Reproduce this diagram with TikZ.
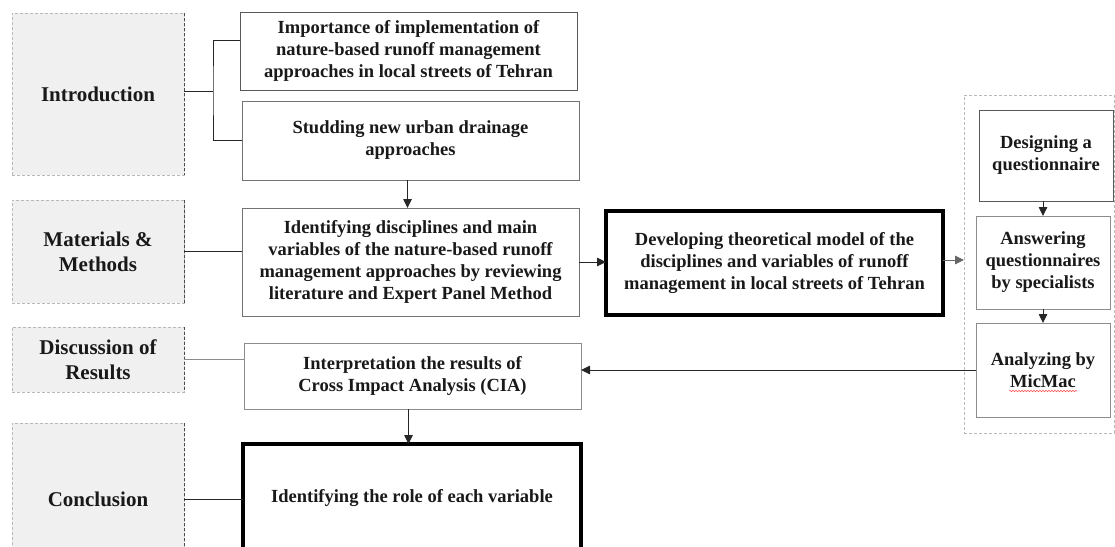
\documentclass[tikz,border=0pt]{standalone}
\usepackage{fontspec}
\setmainfont{Liberation Serif}
\usetikzlibrary{arrows.meta,decorations.pathmorphing}

\tikzset{
  section/.style={draw=gray!55, densely dashed, line width=0.8pt, fill=gray!12,
    inner sep=0pt, outer sep=0pt, align=center, text=black!90,
    font=\fontsize{21}{25}\selectfont\bfseries},
  stepbox/.style={draw=black!65, line width=0.9pt, fill=white,
    inner sep=0pt, outer sep=0pt, align=center, text=black!90,
    font=\fontsize{18.5}{22}\selectfont\bfseries},
  keybox/.style={stepbox, draw=black, line width=3.6pt},
  group/.style={draw=gray!55, densely dashed, line width=0.8pt,
    inner sep=0pt, outer sep=0pt},
  link/.style={draw=black!85, line width=0.9pt},
  flow/.style={link, -{Triangle[length=9pt,width=8.5pt]}},
}

\begin{document}
\begin{tikzpicture}[x=1pt,y=-1pt]
\useasboundingbox (0,0) rectangle (1115,546);
\clip (0,0) rectangle (1115,546);

% section labels on the left
\node[section, minimum width=172pt, minimum height=162pt] (intro) at (98,94) {Introduction};
\node[section, minimum width=172pt, minimum height=103pt] (mm) at (98,251.5) {Materials \&\\Methods};
\node[section, minimum width=172pt, minimum height=65pt] (disc) at (98,359.5) {Discussion of\\Results};
\node[section, minimum width=172pt, minimum height=152pt] (concl) at (98,499) {Conclusion};
\foreach \s in {intro,mm,disc,concl}
  \draw[black!70, densely dashed, line width=0.8pt] (\s.north east) -- (\s.south east);

% main column
\node[stepbox, minimum width=337pt, minimum height=78pt] (b1) at (408.5,51)
  {Importance of implementation of\\nature-based runoff management\\approaches in local streets of Tehran};
\node[stepbox, draw=black!55, minimum width=337pt, minimum height=79pt] (b2) at (410.5,140.5)
  {Studding new urban drainage\\approaches};
\node[stepbox, draw=black!55, minimum width=337pt, minimum height=108pt] (b3) at (410.5,262)
  {Identifying disciplines and main\\variables of the nature-based runoff\\management approaches by reviewing\\literature and Expert Panel Method};
\node[keybox, minimum width=337pt, minimum height=104pt] (dev) at (774.5,263)
  {Developing theoretical model of the\\disciplines and variables of runoff\\management in local streets of Tehran};
\node[stepbox, draw=black!45, minimum width=337pt, minimum height=66pt] (b4) at (412.5,376)
  {Interpretation the results of\\Cross Impact Analysis (CIA)};
\node[keybox, minimum width=338pt, minimum height=108pt] (b5) at (412,498)
  {Identifying the role of each variable};

% questionnaire group on the right
\node[group, minimum width=150pt, minimum height=338pt] (grp) at (1039,264) {};
\node[stepbox, minimum width=134pt, minimum height=91pt] (q1) at (1046,155.5)
  {Designing a\\questionnaire};
\node[stepbox, draw=black!45, minimum width=134pt, minimum height=93pt] (q2) at (1043,262.5)
  {Answering\\questionnaires\\by specialists};
\node[stepbox, draw=black!45, minimum width=134pt, minimum height=94pt] (q3) at (1043,370)
  {Analyzing by\\MicMac};
\coordinate (mmA) at ([xshift=-34pt,yshift=-21pt]q3.center);
\coordinate (mmB) at ([xshift=34pt,yshift=-21pt]q3.center);
\draw[red!70, line width=0.5pt, decorate,
  decoration={snake, amplitude=0.7pt, segment length=3pt}] (mmA) -- (mmB);

% connectors
\coordinate (jn) at (213,91);
\draw[link] (intro.east |- jn) -- (jn);
\draw[link] ([yshift=11pt]b1.west) -| (jn) |- (b2.west);
\draw[link] (mm.east) -- (mm.east -| b3.west);
\draw[link, draw=black!45] (disc.east) -- (disc.east -| b4.west);
\draw[link] (concl.east) -- (concl.east -| b5.west);

\draw[flow] ([xshift=-3pt]b2.south) -- ([xshift=-3pt]b3.north);
\draw[flow] (b3.east) -- (b3.east -| dev.west);
\draw[flow, draw=black!60] ([yshift=3pt]dev.east) -- ([yshift=3pt]dev.east -| grp.west);
\draw[flow] (q2.north |- q1.south) -- (q2.north);
\draw[flow] (q2.south) -- (q3.north);
\draw[flow] (q3.west) -- (q3.west -| b4.east);
\draw[flow] ([xshift=-4pt]b4.south) -- ([xshift=-4pt]b4.south |- b5.north);
\end{tikzpicture}
\end{document}
